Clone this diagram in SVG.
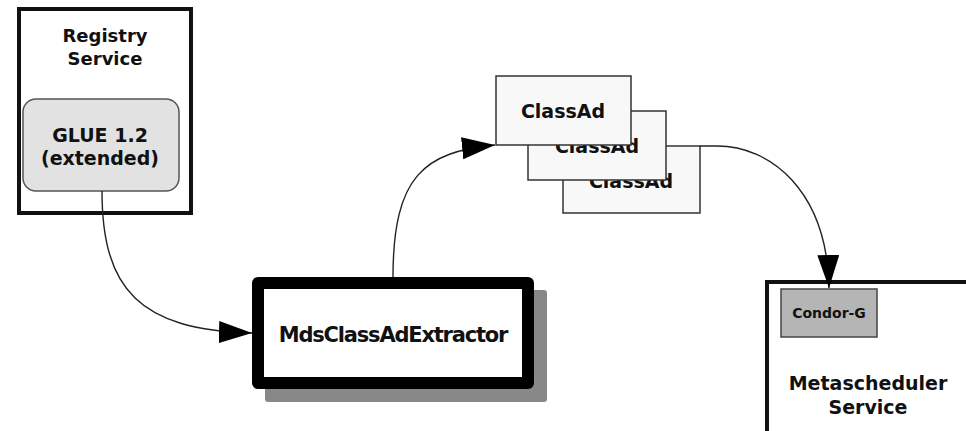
<svg xmlns="http://www.w3.org/2000/svg" width="966" height="431" viewBox="0 0 966 431">
<style>
text{font-family:"DejaVu Sans","Liberation Sans",sans-serif;font-weight:bold;fill:#111;text-anchor:middle}
.conn{fill:none;stroke:#222;stroke-width:1.4}
.ad{fill:#f8f8f8;stroke:#333;stroke-width:1.5}
</style>
<defs>
<marker id="arr" markerUnits="userSpaceOnUse" markerWidth="36" markerHeight="26" refX="33" refY="11" orient="auto">
<path d="M0,0 L33,11 L0,22 z" fill="#000"/>
</marker>
</defs>
<rect width="966" height="431" fill="#fff"/>
<g id="registry">
<rect x="19" y="9" width="172" height="204" fill="#fff" stroke="#111" stroke-width="4"/>
<text x="105" y="42" font-size="18">Registry</text>
<text x="105" y="65" font-size="18">Service</text>
</g>
<g id="glue">
<rect x="23" y="99" width="156" height="92" rx="13" fill="#e2e2e2" stroke="#555" stroke-width="1.5"/>
<text x="100" y="142" font-size="19">GLUE 1.2</text>
<text x="100" y="165" font-size="19">(extended)</text>
</g>
<g id="extractor">
<rect x="265" y="290" width="282" height="112" rx="3" fill="#888"/>
<rect x="258" y="283" width="270" height="100" fill="#fff" stroke="#000" stroke-width="12" stroke-linejoin="round"/>
<text x="393" y="342" font-size="21" letter-spacing="-1.2">MdsClassAdExtractor</text>
</g>
<g id="classad3">
<rect x="563" y="146" width="137" height="67" class="ad"/>
<text x="631" y="188" font-size="19">ClassAd</text>
</g>
<g id="classad2">
<rect x="528" y="111" width="138" height="69" class="ad"/>
<text x="597" y="153" font-size="19">ClassAd</text>
</g>
<g id="classad1">
<rect x="496" y="76" width="135" height="69" class="ad"/>
<text x="563" y="118" font-size="19">ClassAd</text>
</g>
<g id="metascheduler">
<rect x="767" y="282" width="220" height="170" fill="#fff" stroke="#111" stroke-width="4"/>
<text x="868" y="390" font-size="19">Metascheduler</text>
<text x="868" y="414" font-size="19">Service</text>
</g>
<g id="condorg">
<rect x="781" y="289" width="96" height="48" fill="#b5b5b5" stroke="#444" stroke-width="1.5"/>
<text x="829" y="318" font-size="14">Condor-G</text>
</g>
<g id="connectors">
<path class="conn" d="M102,191 C102,290 140,330 252,333" marker-end="url(#arr)"/>
<path class="conn" d="M393,277 C393,175 425,152 495,145" marker-end="url(#arr)"/>
<path class="conn" d="M700,146 L717,146 C770,146 827,190 829,288" marker-end="url(#arr)"/>
</g>
</svg>
